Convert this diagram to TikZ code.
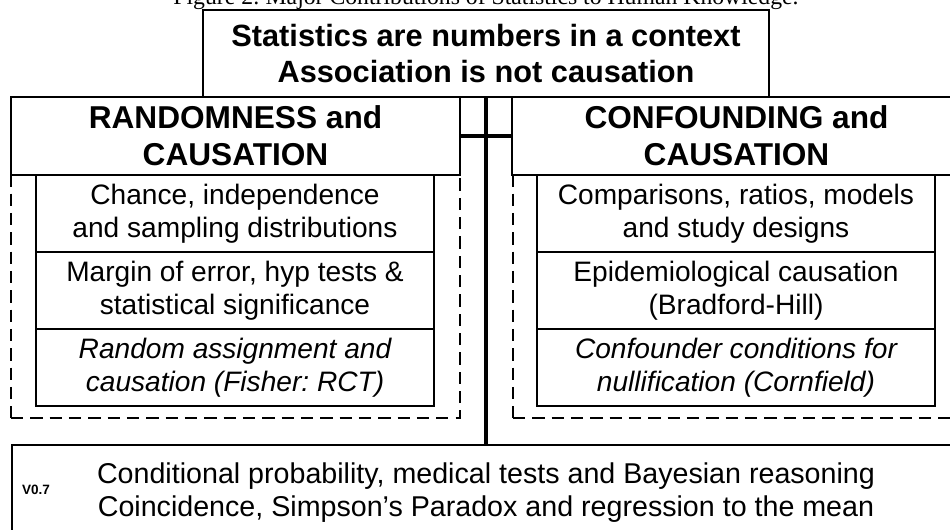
\documentclass[tikz,border=0pt]{standalone}
\usepackage{fontspec}
\setmainfont{Liberation Serif}
\setsansfont{Liberation Sans}
\frenchspacing

\begin{document}
\begin{tikzpicture}[x=0.02cm,y=-0.02cm,
  box/.style={draw, line width=0.6pt, rectangle, align=center, inner sep=0pt,
    font=\sffamily\fontsize{16}{18.7}\selectfont},
  headbox/.style={box, font=\sffamily\bfseries\fontsize{18}{21}\selectfont},
  groupbox/.style={draw, rectangle, inner sep=0pt, line width=0.9pt,
    dash pattern=on 7pt off 4pt},
  cross/.style={line width=1.8pt}]

\def\u{0.02cm}
\useasboundingbox (0,0) rectangle (950,529);
\clip (0,0) rectangle (950,529);

% caption above the chart
\node[anchor=base, font=\fontsize{13.5}{15}\selectfont] (caption) at (486,4)
  {Figure 2: Major Contributions of Statistics to Human Knowledge.};

% top box
\node[box, font=\sffamily\bfseries\fontsize{17.5}{21}\selectfont,
  minimum width=566*\u, minimum height=87*\u] (title) at (486,53.5)
  {Statistics are numbers in a context\\Association is not causation};

% dashed groups
\node[groupbox, minimum width=449*\u, minimum height=243*\u] (leftgroup) at (235.5,296.5) {};
\node[groupbox, minimum width=449*\u, minimum height=243*\u] (rightgroup) at (737.5,296.5) {};

% headers
\node[headbox, minimum width=449*\u, minimum height=78*\u] (lefthead) at (235.5,136)
  {RANDOMNESS and\\CAUSATION};
\node[headbox, minimum width=449*\u, minimum height=78*\u] (righthead) at (736.5,136)
  {CONFOUNDING and\\CAUSATION};

% rows, left side
\node[box, minimum width=398*\u, minimum height=77*\u] (left1) at (235,213.5)
  {Chance, independence\\and sampling distributions};
\node[box, minimum width=398*\u, minimum height=77*\u] (left2) at (235,290.5)
  {Margin of error, hyp tests \&\\statistical significance};
\node[box, minimum width=398*\u, minimum height=77*\u] (left3) at (235,367.5)
  {\itshape Random assignment and\\\itshape causation (Fisher: RCT)};

% rows, right side
\node[box, minimum width=398*\u, minimum height=77*\u] (right1) at (736,213.5)
  {Comparisons, ratios, models\\and study designs};
\node[box, minimum width=398*\u, minimum height=77*\u] (right2) at (736,290.5)
  {Epidemiological causation\\(Bradford-Hill)};
\node[box, minimum width=398*\u, minimum height=77*\u] (right3) at (736,367.5)
  {\itshape Confounder conditions for\\\itshape nullification (Cornfield)};

% bottom box
\node[box, font=\sffamily\fontsize{16.3}{18.7}\selectfont,
  minimum width=948*\u, minimum height=96*\u] (basis) at (486,493)
  {Conditional probability, medical tests and Bayesian reasoning\\Coincidence, Simpson’s Paradox and regression to the mean};
\node[font=\sffamily\bfseries\fontsize{7.7}{9}\selectfont] (version) at (36,490) {V0.7};

% the cross
\draw[cross] (title.south) -- (basis.north);
\draw[cross] (lefthead.east) -- (righthead.west);

\end{tikzpicture}
\end{document}
